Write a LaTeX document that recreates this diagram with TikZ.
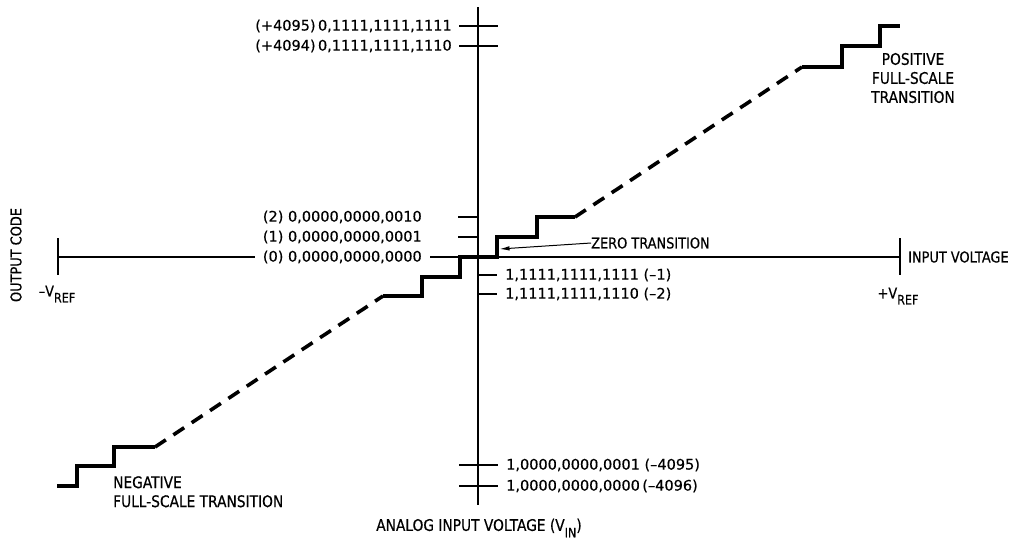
\documentclass[tikz,border=0pt]{standalone}
\usepackage{fontspec}
\setmainfont{DejaVu Sans}[FakeBold=0.4]
\newfontfamily\capfont{DejaVu Sans}[FakeStretch=0.86,FakeBold=0.5]
\usetikzlibrary{positioning,calc,arrows.meta}
\newcommand{\vsub}[1]{\raisebox{-0.4em}{\fontsize{13}{13}\selectfont #1}}
\tikzset{
	code diagram/.style={
		x=1pt,y=-1pt,
		font=\fontsize{14.5}{18}\selectfont,
		every node/.style={inner sep=0pt}
	},
	axis line/.style={
		line width=1.3pt
	},
	code tick/.style={
		line width=1.3pt
	},
	transfer step/.style={
		line width=3.6pt,
		line join=miter
	},
	transfer dash/.style={
		line width=3.6pt,
		dash pattern=on 13pt off 9pt
	},
	code left/.style={
		anchor=east
	},
	code right/.style={
		anchor=west
	},
	caption text/.style={
		font=\capfont\fontsize{15}{19}\selectfont
	},
	big caption/.style={
		font=\capfont\fontsize{16}{19}\selectfont
	}
}

\begin{document}
\begin{tikzpicture}[code diagram]
	\useasboundingbox (0,0) rectangle (1015,542);
	% axes
	\coordinate (ytop) at (478,7);
	\coordinate (ybot) at (478,505);
	\coordinate (vneg) at (58,257);
	\coordinate (vpos) at (900,257);
	\draw[axis line] (ytop) -- (ybot);
	\draw[axis line] (vneg) -- (vpos);
	\draw[axis line] ($(vneg)+(0,-19)$) -- ($(vneg)+(0,18)$);
	\draw[axis line] ($(vpos)+(0,-19)$) -- ($(vpos)+(0,18)$);

	% code ticks
	\foreach \y/\name in {26/p4095,46/p4094,465/m4095,486/m4096}
		\draw[code tick] (459,\y) coordinate (\name-l) -- (498,\y) coordinate (\name-r);
	\foreach \y/\name in {217/p2,237/p1}
		\draw[code tick] (458,\y) coordinate (\name-l) -- (478,\y);
	\foreach \y/\name in {275/m1,294/m2}
		\draw[code tick] (478,\y) -- (497,\y) coordinate (\name-r);
	\coordinate (p0-l) at (458,257);

	% code labels
	\node[code left,left=7pt of p4095-l] (c4095) {(+4095)\,0,1111,1111,1111};
	\node[code left,left=7pt of p4094-l] (c4094) {(+4094)\,0,1111,1111,1110};
	\node[code left,left=36pt of p2-l] (c2) {(2) 0,0000,0000,0010};
	\node[code left,left=36pt of p1-l] (c1) {(1) 0,0000,0000,0001};
	\node[code left,left=28pt of p0-l,fill=white,inner xsep=8pt,inner ysep=2pt] (c0) {(0) 0,0000,0000,0000};
	\node[code right,right=8pt of m1-r] (cm1) {1,1111,1111,1111 (--1)};
	\node[code right,right=8pt of m2-r] (cm2) {1,1111,1111,1110 (--2)};
	\node[code right,right=8pt of m4095-r] (cm4095) {1,0000,0000,0001 (--4095)};
	\node[code right,right=8pt of m4096-r] (cm4096) {1,0000,0000,0000\,(--4096)};

	% transfer function
	\draw[transfer step] (383,296) -- (422,296) -- (422,277) -- (460,277) -- (460,257)
		-- (497,257) -- (497,237) coordinate (zero) -- (537,237) -- (537,217) -- (575,217) coordinate (dashA);
	\draw[transfer dash] (dashA) -- (802,67) coordinate (dashB);
	\draw[transfer step] (dashB) -- (842,67) -- (842,46) -- (880,46) -- (880,26) -- (900,26);
	\draw[transfer step] (57,486) -- (77,486) -- (77,466) -- (114,466) -- (114,447) -- (155,447) coordinate (dashC);
	\draw[transfer dash] (dashC) -- (383,296);

	% annotations
	\node[caption text,anchor=west] (zt) at (591,243) {ZERO TRANSITION};
	\coordinate (zt-tip) at (499.5,249);
	\draw[line width=1pt,-{Latex[length=10pt,width=4.5pt]}] (zt.west) -- (zt-tip);
	\node[big caption,align=center] (pos) at (913,78) {POSITIVE\\FULL-SCALE\\TRANSITION};
	\node[big caption,align=left,anchor=north west] (neg) at (113,476) {NEGATIVE\\FULL-SCALE TRANSITION};
	\node[caption text,anchor=west] (iv) at (908,257) {INPUT VOLTAGE};
	\node[caption text] (vref-n) at (57,294) {\textendash V\vsub{REF}};
	\node[caption text] (vref-p) at (898,296) {+V\vsub{REF}};
	\node[big caption] (xlab) at (479,528) {ANALOG INPUT VOLTAGE (V\vsub{IN})};
	\node[caption text,rotate=90] (ylab) at (16,255) {OUTPUT CODE};
\end{tikzpicture}
\end{document}
